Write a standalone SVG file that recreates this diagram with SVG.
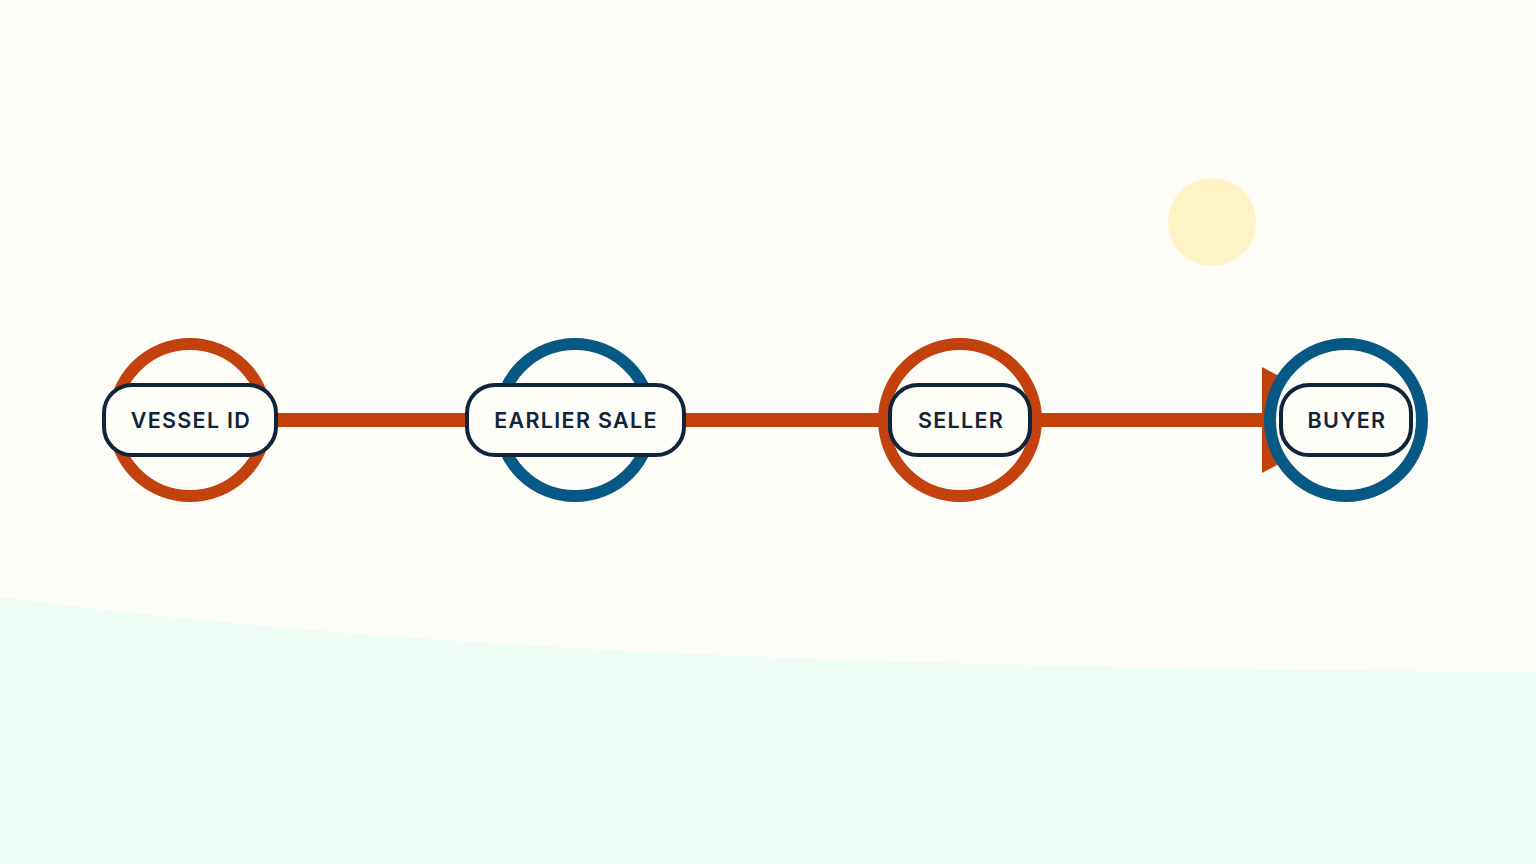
<svg xmlns="http://www.w3.org/2000/svg" width="1536" height="864" viewBox="0 0 1536 864">
<style>
.ring{fill:#fffdf8;stroke-width:12}
.o{stroke:#c2410c}
.b{stroke:#075985}
.box{fill:#fffdf8;stroke:#10243a;stroke-width:4}
.lbl{font-family:Inter,"Liberation Sans",sans-serif;font-weight:600;font-size:21.5px;letter-spacing:1.3px;fill:#10243a;text-anchor:middle;dominant-baseline:central}
</style>
<rect width="1536" height="864" fill="#fffdf8"/>
<path d="M0,597 C420,652 900,668 1536,672 L1536,864 L0,864 Z" fill="#edfcf5"/>
<circle cx="1212" cy="222" r="44" fill="#fef3c7"/>
<g id="connectors">
<line x1="190" y1="420" x2="1270" y2="420" stroke="#c2410c" stroke-width="14"/>
<polygon points="1262,367 1262,473 1362,420" fill="#c2410c"/>
</g>
<g id="vessel-id">
<circle class="ring o" cx="190" cy="420" r="76"/>
<rect class="box" x="104" y="385" width="172" height="70" rx="28"/>
<text class="lbl" x="191" y="420">VESSEL ID</text>
</g>
<g id="earlier-sale">
<circle class="ring b" cx="575" cy="420" r="76"/>
<rect class="box" x="467" y="385" width="217" height="70" rx="28"/>
<text class="lbl" x="576" y="420">EARLIER SALE</text>
</g>
<g id="seller">
<circle class="ring o" cx="960" cy="420" r="76"/>
<rect class="box" x="890" y="385" width="140" height="70" rx="28"/>
<text class="lbl" x="961" y="420">SELLER</text>
</g>
<g id="buyer">
<circle class="ring b" cx="1346" cy="420" r="76"/>
<rect class="box" x="1281" y="385" width="130" height="70" rx="28"/>
<text class="lbl" x="1347" y="420">BUYER</text>
</g>
</svg>
